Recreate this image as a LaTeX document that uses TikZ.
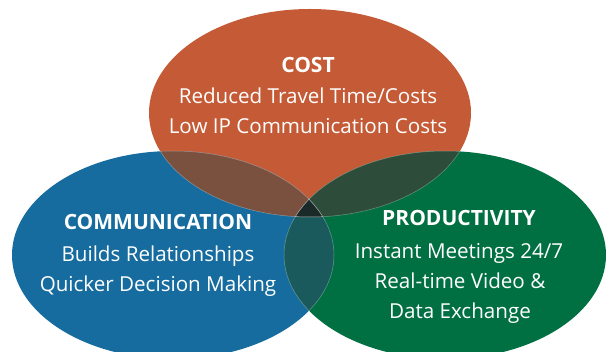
\documentclass[tikz,border=0pt]{standalone}
\usepackage{fontspec}
\setmainfont{Open Sans}
\definecolor{corange}{HTML}{C55B36}
\definecolor{cblue}{HTML}{166C9E}
\definecolor{cgreen}{HTML}{007043}
\definecolor{cob}{HTML}{7A503F}
\definecolor{cog}{HTML}{2E4C3A}
\definecolor{cbg}{HTML}{1B5A5C}
\definecolor{call}{HTML}{1B2A28}
\begin{document}
\begin{tikzpicture}[x=1pt,y=-1pt,
  txt/.style={text=white,font=\fontsize{20.6}{24}\selectfont,anchor=base,inner sep=0pt},
  head/.style={txt,font=\fontsize{21}{24}\selectfont\bfseries},
  rim/.style={draw=white,draw opacity=0.35,line width=0.5pt}]
\useasboundingbox (0,0) rectangle (613,352);
\def\eO{(310,113) ellipse [x radius=161, y radius=104]}
\def\eB{(173,255) ellipse [x radius=161, y radius=104]}
\def\eG{(445,255) ellipse [x radius=161, y radius=104]}
\begin{scope}
\clip (0,0) rectangle (613,352);
\fill[corange] \eO;
\fill[cblue] \eB;
\fill[cgreen] \eG;
\begin{scope}\clip \eO; \fill[cob] \eB; \end{scope}
\begin{scope}\clip \eO; \fill[cog] \eG; \end{scope}
\begin{scope}\clip \eB; \fill[cbg] \eG; \end{scope}
\begin{scope}\clip \eO; \clip \eB; \fill[call] \eG; \end{scope}
\begin{scope}\clip \eO; \draw[rim] \eB; \draw[rim] \eG; \end{scope}
\begin{scope}\clip \eB; \draw[rim] \eO; \draw[rim] \eG; \end{scope}
\begin{scope}\clip \eG; \draw[rim] \eO; \draw[rim] \eB; \end{scope}
\end{scope}
\node[head] (cost) at (308,73) {COST};
\node[txt] (c1) at (308,104) {Reduced Travel Time/Costs};
\node[txt] (c2) at (308,134) {Low IP Communication Costs};
\node[head] (comm) at (158,230) {COMMUNICATION};
\node[txt] (m1) at (158,262) {Builds Relationships};
\node[txt] (m2) at (158,292) {Quicker Decision Making};
\node[head] (prod) at (459,226) {PRODUCTIVITY};
\node[txt] (p1) at (459,259) {Instant Meetings 24/7};
\node[txt] (p2) at (460,289) {Real-time Video \&};
\node[txt] (p3) at (460,319) {Data Exchange};
\end{tikzpicture}
\end{document}
